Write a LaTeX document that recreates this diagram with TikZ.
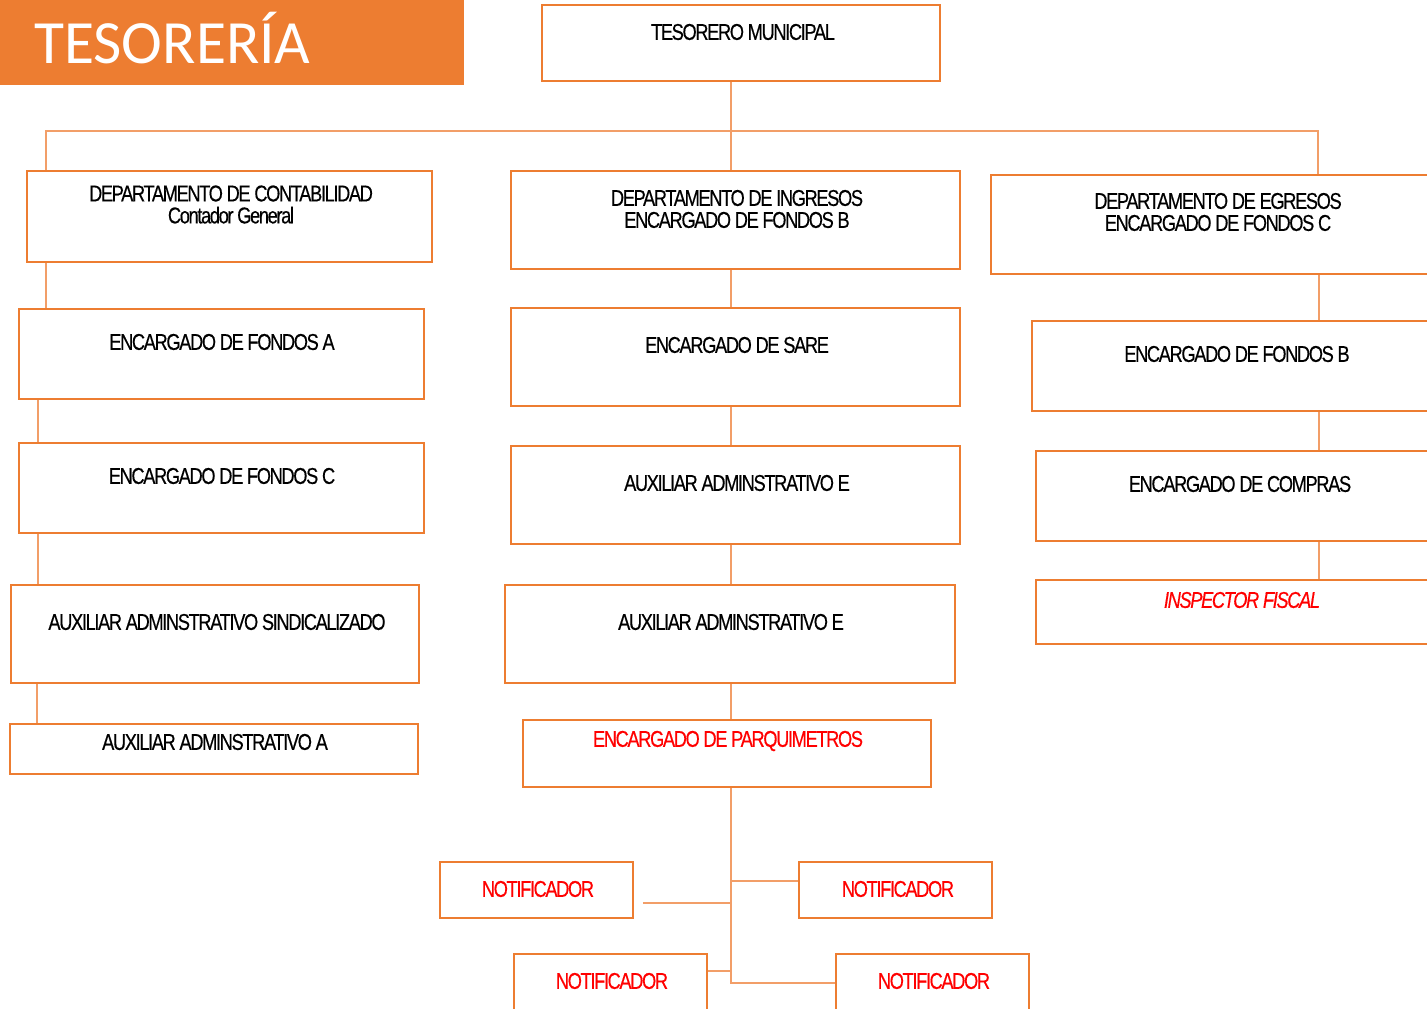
\documentclass[tikz,border=0pt]{standalone}
\usepackage{fontspec}
\setmainfont{Liberation Sans}
\newfontfamily\cond[FakeStretch=0.8,LetterSpace=-6,FakeBold=0.4]{Liberation Sans}
\newfontfamily\titlefont{Carlito}
\usetikzlibrary{fit,calc}
\definecolor{orgA}{RGB}{237,125,49}
\definecolor{orgL}{RGB}{242,158,104}
\definecolor{redT}{RGB}{255,0,0}
\tikzset{
 box/.style={draw=orgA, line width=1.1pt, inner sep=0pt},
 lbl/.style={font=\cond\fontsize{13}{13}\selectfont, align=center, inner sep=0pt, anchor=center},
 rlbl/.style={lbl, text=redT},
 conn/.style={draw=orgL, line width=0.7pt},
}
\begin{document}
\begin{tikzpicture}[x=0.02cm,y=-0.02cm]
\useasboundingbox (0,0) rectangle (1427,1008);
\clip (0,0) rectangle (1427,1008);
% title
\fill[orgA] (0,0) rectangle (464,85);
\node[anchor=west, text=white, font=\titlefont\fontsize{35}{40}\selectfont, inner sep=0pt] (title) at (34,38) {TESORERÍA};
% boxes
\node[box, fit={(542,5)(940,81)}] (tes) {};
\node[box, fit={(27,171)(432,262)}] (cont) {};
\node[box, fit={(511,171)(960,269)}] (ing) {};
\node[box, fit={(991,175)(1445,274)}] (egr) {};
\node[box, fit={(19,309)(424,399)}] (fa) {};
\node[box, fit={(511,308)(960,406)}] (sare) {};
\node[box, fit={(1032,321)(1445,411)}] (fb) {};
\node[box, fit={(19,443)(424,533)}] (fc) {};
\node[box, fit={(511,446)(960,544)}] (auxe1) {};
\node[box, fit={(1036,451)(1445,541)}] (comp) {};
\node[box, fit={(11,585)(419,683)}] (auxs) {};
\node[box, fit={(505,585)(955,683)}] (auxe2) {};
\node[box, fit={(1036,580)(1445,644)}] (insp) {};
\node[box, fit={(10,724)(418,774)}] (auxa) {};
\node[box, fit={(523,720)(931,787)}] (parq) {};
\node[box, fit={(440,862)(633,918)}] (n1) {};
\node[box, fit={(799,862)(992,918)}] (n2) {};
\node[box, fit={(514,954)(707,1030)}] (n3) {};
\node[box, fit={(836,954)(1029,1030)}] (n4) {};
% labels
\node[lbl] (ttes) at (743,32) {TESORERO MUNICIPAL};
\node[lbl] (tcont) at (231,204.5) {DEPARTAMENTO DE CONTABILIDAD\\[-0.5pt]Contador General};
\node[lbl] (ting) at (737,209) {DEPARTAMENTO DE INGRESOS\\[-0.5pt]ENCARGADO DE FONDOS B};
\node[lbl] (tegr) at (1218,212) {DEPARTAMENTO DE EGRESOS\\[-0.5pt]ENCARGADO DE FONDOS C};
\node[lbl] (tfa) at (222,342) {ENCARGADO DE FONDOS A};
\node[lbl] (tsare) at (737,345) {ENCARGADO DE SARE};
\node[lbl] (tfb) at (1237,354) {ENCARGADO DE FONDOS B};
\node[lbl] (tfc) at (222,476) {ENCARGADO DE FONDOS C};
\node[lbl] (tauxe1) at (737,483) {AUXILIAR ADMINSTRATIVO E};
\node[lbl] (tcomp) at (1240,484) {ENCARGADO DE COMPRAS};
\node[lbl] (tauxs) at (217,622) {AUXILIAR ADMINSTRATIVO SINDICALIZADO};
\node[lbl] (tauxe2) at (731,622) {AUXILIAR ADMINSTRATIVO E};
\node[rlbl, font=\cond\itshape\fontsize{13}{13}\selectfont] (tinsp) at (1242,600) {INSPECTOR FISCAL};
\node[lbl] (tauxa) at (215,742) {AUXILIAR ADMINSTRATIVO A};
\node[rlbl] (tparq) at (728,741) {ENCARGADO DE PARQUIMETROS};
\node[rlbl] (tn1) at (538,889) {NOTIFICADOR};
\node[rlbl] (tn2) at (898,889) {NOTIFICADOR};
\node[rlbl] (tn3) at (612,981) {NOTIFICADOR};
\node[rlbl] (tn4) at (934,981) {NOTIFICADOR};
% connector coordinates
\coordinate (bus) at (731,131);
\coordinate (busL) at (46,131);
\coordinate (busR) at (1318,131);
\coordinate (xl2) at (38,0);
\coordinate (xl3) at (37,0);
\coordinate (xr) at (1319,0);
\coordinate (spine) at (731,983);
\coordinate (j1) at (731,903);
\coordinate (j2) at (731,881);
\coordinate (j3) at (731,971);
% connectors
\draw[conn] (tes.south -| bus) -- (ing.north -| bus);
\draw[conn] (cont.north -| busL) -- (busL) -- (busR) -- (egr.north -| busR);
\draw[conn] (cont.south -| busL) -- (fa.north -| busL);
\draw[conn] (fa.south -| xl2) -- (fc.north -| xl2);
\draw[conn] (fc.south -| xl2) -- (auxs.north -| xl2);
\draw[conn] (auxs.south -| xl3) -- (auxa.north -| xl3);
\draw[conn] (ing.south -| bus) -- (sare.north -| bus);
\draw[conn] (sare.south -| bus) -- (auxe1.north -| bus);
\draw[conn] (auxe1.south -| bus) -- (auxe2.north -| bus);
\draw[conn] (auxe2.south -| bus) -- (parq.north -| bus);
\draw[conn] (parq.south -| bus) -- (spine) -- (n4.west |- spine);
\draw[conn] (j2) -- (n2.west |- j2);
\draw[conn] ([xshift=5]n1.east |- j1) -- (j1);
\draw[conn] (n3.east |- j3) -- (j3);
\draw[conn] (egr.south -| xr) -- (fb.north -| xr);
\draw[conn] (fb.south -| xr) -- (comp.north -| xr);
\draw[conn] (comp.south -| xr) -- (insp.north -| xr);
\end{tikzpicture}
\end{document}
